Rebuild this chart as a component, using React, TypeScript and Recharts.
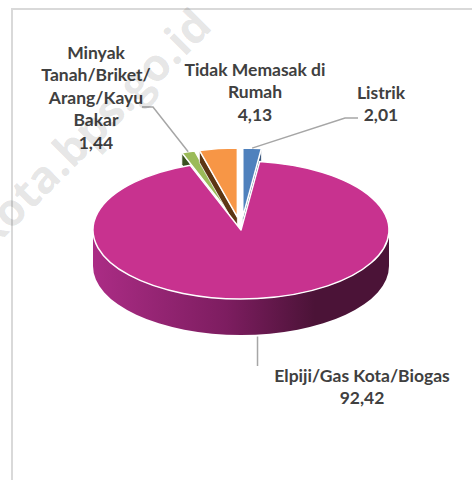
import React from "react";
import { PieChart, Pie, Cell } from "recharts";

// slices, listed so that the big slice is drawn last (it sits in front)
const names = ["Minyak Tanah/Briket/Arang/Kayu Bakar", "Tidak Memasak di Rumah", "Listrik", "Elpiji/Gas Kota/Biogas"];
const values = [1.44, 4.13, 2.01, 92.42];
const valueLabels = ["1,44", "4,13", "2,01", "92,42"];
const nameLines = [["Minyak", "Tanah/Briket/", "Arang/Kayu", "Bakar"], ["Tidak Memasak di", "Rumah"], ["Listrik"], ["Elpiji/Gas Kota/Biogas"]];

const topColors = ["#9bbb59", "#f79646", "#4f81bd", "#c8328f"];
const sideColors = ["#3a5120", "#5c3614", "#2c4a72", "#7d1d60"];
const wallLight = ["#6f8c3a", "#c06a2a", "#3a66a0", "#ab2c85"];
const wallDark = ["#2f4119", "#4d2c10", "#223a5c", "#4b1337"];

const data = names.map((name, i) => ({ name, value: values[i] }));

// geometry of the fake 3D pie
const CX = 241;
const CY = 230;
const R = 148;
const K = 0.466;
const DEPTH = 36;
const SIDE_DEPTH = 12;
const EXPLODE = 28;
const START = 90 + ((values[0] + values[1]) / 100) * 360;

// text position for each label: center x, first baseline, elbow/end of leader line
const labelLayout = [
  { x: 96, y: 59, elbow: [153, 107], end: [142, 107] },
  { x: 255, y: 76, elbow: null, end: null },
  { x: 381, y: 98.5, elbow: [345, 118], end: [358, 118] },
  { x: 362, y: 382, elbow: null, end: "down" },
];

const FONT = "Lato, 'Open Sans', sans-serif";
const RAD = Math.PI / 180;

function Slice3D(props: any) {
  const { cx, cy, outerRadius: r, startAngle, endAngle, percent, index } = props;
  const mid = ((startAngle + endAngle) / 2) * RAD;
  const off = percent < 0.1 ? EXPLODE : 0;
  const ox = cx + off * Math.cos(mid);
  const oy = cy - off * Math.sin(mid) * K;
  const ry = r * K;
  const P = (deg: number, dz = 0) =>
    `${ox + r * Math.cos(deg * RAD)},${oy - ry * Math.sin(deg * RAD) + dz}`;
  const arc = (a1: number, a2: number, dz: number, sweep: number) =>
    `A${r},${ry} 0 ${Math.abs(a1 - a2) > 180 ? 1 : 0} ${sweep} ${P(a2, dz)}`;
  const hi = Math.max(startAngle, endAngle);
  const lo = Math.min(startAngle, endAngle);

  const walls: any[] = [];
  for (let k = -2; k <= 1; k++) {
    const a1 = Math.min(hi, 360 * k);
    const a2 = Math.max(lo, 360 * k - 180);
    if (a1 - a2 > 0.01) {
      walls.push(
        <path key={"w" + k} d={`M${P(a1)} ${arc(a1, a2, 0, 1)} L${P(a2, DEPTH)} ${arc(a2, a1, DEPTH, 0)} Z`} fill={`url(#wall-${index})`} />
      );
    }
  }
  const radial = (deg: number, key: string) => (
    <path key={key} d={`M${ox},${oy} L${P(deg)} L${P(deg, SIDE_DEPTH)} L${ox},${oy + SIDE_DEPTH} Z`} fill={sideColors[index]} stroke="#fff" strokeWidth={0.8} />
  );
  const sides: any[] = [];
  if (Math.cos(hi * RAD) < -0.01) sides.push(radial(hi, "rh"));
  if (Math.cos(lo * RAD) > 0.01) sides.push(radial(lo, "rl"));

  return (
    <g>
      <defs>
        <linearGradient id={`wall-${index}`} gradientUnits="userSpaceOnUse" x1={ox - r} y1={0} x2={ox + r} y2={0}>
          <stop offset="0" stopColor={wallLight[index]} />
          <stop offset="0.45" stopColor={sideColors[index]} />
          <stop offset="0.75" stopColor={wallDark[index]} />
          <stop offset="1" stopColor={wallDark[index]} />
        </linearGradient>
      </defs>
      {sides}
      {walls}
      <path d={`M${ox},${oy} L${P(hi)} ${arc(hi, lo, 0, 1)} Z`} fill={topColors[index]} stroke="#fff" strokeWidth={1.5} strokeLinejoin="round" />
    </g>
  );
}

function renderLabel(props: any) {
  const { cx, cy, outerRadius: r, midAngle, percent, index } = props;
  const lay = labelLayout[index];
  const off = percent < 0.1 ? EXPLODE : 0;
  const m = midAngle * RAD;
  const front = Math.sin(m) < 0;
  const ax = cx + (r + off) * Math.cos(m);
  const ay = cy - (r + off) * Math.sin(m) * K + (front ? DEPTH : 0);
  const lines = [...nameLines[index], valueLabels[index]];
  let leader = null;
  if (lay.end === "down") {
    leader = <path d={`M${ax},${ay + 2} L${ax},${lay.y - 16}`} stroke="#a6a6a6" strokeWidth={1.5} fill="none" />;
  } else if (lay.end && lay.elbow) {
    leader = (
      <path d={`M${ax},${ay} L${lay.elbow[0]},${lay.elbow[1]} L${(lay.end as number[])[0]},${(lay.end as number[])[1]}`} stroke="#a6a6a6" strokeWidth={1.5} fill="none" />
    );
  }
  return (
    <g key={"lbl" + index}>
      {leader}
      <text x={lay.x} y={lay.y} textAnchor="middle" fill="#404040" fontFamily={FONT} fontWeight={700} fontSize={17.5}>
        {lines.map((t, i) => (
          <tspan key={i} x={lay.x} y={lay.y + i * 22.4}>{t}</tspan>
        ))}
      </text>
    </g>
  );
}

export default function App() {
  return (
    <div style={{ position: "absolute", left: 0, top: 0, width: 472, height: 480, overflow: "hidden", background: "#fff" }}>
      <div style={{ position: "absolute", left: 11, top: 8, width: 490, height: 500, border: "2px solid #d9d9d9" }} />
      <div style={{ position: "absolute", left: 0, top: 0 }}>
        <PieChart width={472} height={480} margin={{ top: 0, right: 0, bottom: 0, left: 0 }}>
          <Pie
            data={data}
            dataKey="value"
            nameKey="name"
            cx={CX}
            cy={CY}
            outerRadius={R}
            startAngle={START}
            endAngle={START - 360}
            stroke="#fff"
            shape={Slice3D}
            label={renderLabel}
            labelLine={false}
            isAnimationActive={false}
          >
            {data.map((d, i) => (
              <Cell key={d.name} fill={topColors[i]} />
            ))}
          </Pie>
        </PieChart>
      </div>
      <svg width={472} height={480} style={{ position: "absolute", left: 0, top: 0, pointerEvents: "none" }}>
        <text
          x={214}
          y={28}
          textAnchor="end"
          transform="rotate(-45 214 28)"
          fontFamily="'Open Sans', sans-serif"
          fontWeight={700}
          fontSize={45}
          fill="#000"
          fillOpacity={0.11}
        >
          kota.bps.go.id
        </text>
      </svg>
    </div>
  );
}
